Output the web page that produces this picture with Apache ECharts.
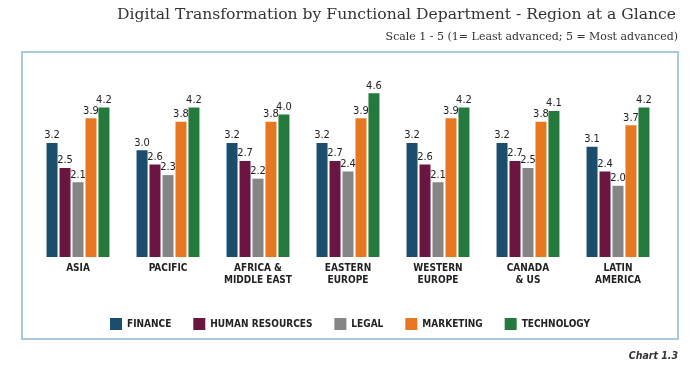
<!DOCTYPE html>
<html>
<head>
<meta charset="utf-8">
<script src="https://cdn.jsdelivr.net/npm/echarts@6/dist/echarts.min.js"></script>
<style>html,body{margin:0;padding:0;background:#fff}#c{width:700px;height:371px}</style>
</head>
<body>
<div id="c"></div>
<script>
var categories = ['ASIA', 'PACIFIC', 'AFRICA &\nMIDDLE EAST', 'EASTERN\nEUROPE', 'WESTERN\nEUROPE', 'CANADA\n& US', 'LATIN\nAMERICA'];
var finance = [3.2, 3.0, 3.2, 3.2, 3.2, 3.2, 3.1];
var humanResources = [2.5, 2.6, 2.7, 2.7, 2.6, 2.7, 2.4];
var legal = [2.1, 2.3, 2.2, 2.4, 2.1, 2.5, 2.0];
var marketing = [3.9, 3.8, 3.8, 3.9, 3.9, 3.8, 3.7];
var technology = [4.2, 4.2, 4.0, 4.6, 4.2, 4.1, 4.2];
var seriesNames = ['FINANCE', 'HUMAN RESOURCES', 'LEGAL', 'MARKETING', 'TECHNOLOGY'];
var seriesData = [finance, humanResources, legal, marketing, technology];
var colors = ['#1b4e6d', '#6b1541', '#858585', '#e87722', '#247a3d'];

var cond = '"DejaVu Sans Condensed", "Liberation Sans Narrow", sans-serif';
var chart = echarts.init(document.getElementById('c'));
chart.setOption({
  animation: false,
  color: colors,
  title: [{
    text: 'Digital Transformation by Functional Department - Region at a Glance',
    right: 24, top: 7, padding: 0,
    textStyle: {fontFamily: '"DejaVu Serif", serif', fontWeight: 'normal', fontSize: 15.6, color: '#333'}
  }, {
    text: 'Scale 1 - 5 (1= Least advanced; 5 = Most advanced)',
    right: 22, top: 32, padding: 0,
    textStyle: {fontFamily: '"DejaVu Serif", serif', fontWeight: 'normal', fontSize: 11, color: '#333'}
  }, {
    text: 'Chart 1.3',
    right: 22, top: 351, padding: 0,
    textStyle: {fontFamily: '"DejaVu Sans Condensed", sans-serif', fontStyle: 'italic', fontWeight: 'bold', fontSize: 10.5, color: '#333'}
  }],
  graphic: [{
    type: 'rect', shape: {x: 22, y: 52, width: 656, height: 287},
    style: {fill: 'none', stroke: '#a7c9dc', lineWidth: 2}, silent: true, z: -1
  }],
  legend: {
    data: seriesNames,
    top: 313, left: 'center',
    itemWidth: 12, itemHeight: 12, itemGap: 22,
    icon: 'rect',
    textStyle: {fontFamily: cond, fontWeight: 'bold', fontSize: 10, color: '#222'}
  },
  grid: {left: 33, right: 37, top: 79, bottom: 114},
  xAxis: {
    type: 'category', data: categories,
    axisLine: {show: false}, axisTick: {show: false},
    axisLabel: {fontFamily: cond, fontWeight: 'bold', fontSize: 10, color: '#222', margin: 5, lineHeight: 12, interval: 0}
  },
  yAxis: {
    type: 'value', min: 0, max: 5, show: false, splitLine: {show: false}
  },
  series: seriesData.map(function (d, i) {
    return {
      name: seriesNames[i], type: 'bar', data: d,
      barWidth: 11, barGap: '18%',
      label: {show: true, position: 'top', distance: 2, fontFamily: cond, fontSize: 11, color: '#222',
        formatter: function (p) { return p.value.toFixed(1); }}
    };
  })
});
</script>
</body>
</html>
